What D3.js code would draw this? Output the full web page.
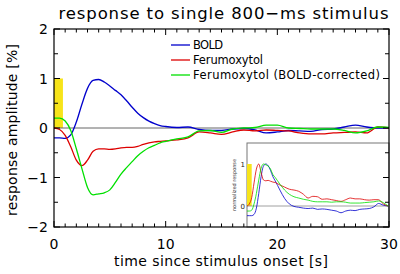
<!DOCTYPE html>
<html><head><meta charset="utf-8">
<script src="https://cdn.jsdelivr.net/npm/d3@7"></script>
<style>body{margin:0;background:#fff}svg{display:block}</style>
</head><body>
<svg id="c" width="400" height="274"></svg>
<script>
// ---- data ----
const seriesNames = ["BOLD", "Ferumoxytol", "Ferumoxytol (BOLD-corrected)"];
const timeMain = [0,0.5,1,1.5,2,2.5,3,3.5,4,4.5,5,5.5,6,6.5,7,7.5,8,8.5,9,9.5,10,11,12,13,14,15,16,17,18,19,20,21,22,23,24,25,26,27,28,29,30];
const boldMain = [-0.2,-0.2,-0.21,-0.14,0.12,0.48,0.8,0.96,0.98,0.93,0.85,0.76,0.67,0.55,0.42,0.3,0.21,0.14,0.09,0.05,0.03,0.01,0.02,-0.03,-0.05,-0.05,-0.02,-0.01,-0.04,-0.1,-0.08,-0.05,-0.06,-0.07,-0.03,-0.02,0.02,0.06,0.02,0.0,0.0];
const ferMain = [0,-0.03,-0.15,-0.38,-0.65,-0.76,-0.65,-0.47,-0.42,-0.42,-0.43,-0.42,-0.4,-0.39,-0.39,-0.37,-0.33,-0.3,-0.28,-0.27,-0.26,-0.24,-0.2,-0.08,-0.1,-0.13,-0.08,-0.04,-0.06,-0.04,-0.05,-0.06,-0.1,-0.12,-0.12,-0.1,-0.09,-0.08,-0.1,0.02,0.0];
const ferCorrMain = [0.2,0.2,0.14,-0.05,-0.42,-0.82,-1.2,-1.35,-1.33,-1.31,-1.25,-1.1,-0.93,-0.8,-0.68,-0.56,-0.47,-0.4,-0.35,-0.3,-0.27,-0.22,-0.18,-0.06,-0.05,-0.09,-0.02,0.0,0.01,0.06,0.06,0.0,-0.01,-0.02,-0.02,-0.02,-0.05,-0.1,-0.06,0.02,0.01];
const timeInset = [0,0.5,1,1.5,2,2.5,3,3.5,4,4.5,5,5.5,6,7,8,9,10,11,12,13,14,15,16,17,18,19,20,21,22,23,24,25,26,27,28,29,30];
const boldNorm = [-0.23,-0.23,-0.23,-0.2,-0.05,0.3,0.7,0.95,1.0,0.96,0.85,0.7,0.6,0.38,0.18,0.05,-0.01,-0.03,-0.05,-0.06,-0.05,-0.08,-0.07,-0.08,-0.1,-0.12,-0.16,-0.12,-0.1,-0.11,-0.08,-0.07,-0.06,-0.02,0.06,0.02,0.0];
const ferNorm = [0.0,0.05,0.2,0.55,0.88,1.0,0.8,0.62,0.6,0.61,0.59,0.57,0.56,0.5,0.45,0.4,0.38,0.35,0.28,0.19,0.23,0.22,0.16,0.17,0.15,0.13,0.11,0.15,0.19,0.17,0.17,0.15,0.14,0.15,0.15,0.05,0.0];
const ferCorrNorm = [-0.12,-0.12,-0.1,0.05,0.3,0.62,0.9,1.0,0.98,0.95,0.88,0.75,0.68,0.52,0.38,0.28,0.22,0.19,0.16,0.14,0.11,0.1,0.1,0.1,0.09,0.1,0.1,0.09,0.07,0.07,0.07,0.08,0.09,0.1,0.12,0.08,0.0];
const stimulus = {start:0, end:0.8, amp:1};
const xTicks = [0,10,20,30];
const yTicks = [-2,-1,0,1,2];
const insetYTicks = [0,1];
const colors = ["#0000cc","#dd0000","#00e000"];

// ---- layout ----
const svg = d3.select("#c");
const L=54,R=389,T=29,B=227;
const x = d3.scaleLinear().domain([0,30]).range([L,R]);
const y = d3.scaleLinear().domain([-2,2]).range([B,T]);
const font = "'DejaVu Sans', sans-serif";

svg.append("defs").append("clipPath").attr("id","cp").append("rect")
  .attr("x",L).attr("y",T).attr("width",R-L).attr("height",B-T);

// stimulus bar
svg.append("rect").attr("x",x(stimulus.start)).attr("y",y(stimulus.amp))
  .attr("width",x(stimulus.end)-x(stimulus.start)).attr("height",y(0)-y(stimulus.amp))
  .attr("fill","#f7e41a");
// zero line
svg.append("line").attr("x1",L).attr("x2",R).attr("y1",y(0)).attr("y2",y(0))
  .attr("stroke","#666").attr("stroke-width",1);

const mainSeries=[boldMain,ferMain,ferCorrMain];
const line = d3.line().x((d,i)=>x(timeMain[i])).y(d=>y(d)).curve(d3.curveMonotoneX);
const g = svg.append("g").attr("clip-path","url(#cp)");
mainSeries.forEach((s,k)=>{
  g.append("path").datum(s).attr("d",line).attr("fill","none")
   .attr("stroke",colors[k]).attr("stroke-width",1.3);
});

// inset
const iL=247,iR=R,iT=143,iB=B;
const xi = d3.scaleLinear().domain([0,30]).range([iL,iR-1]);
const yi = d3.scaleLinear().domain([-0.5,1.5]).range([iB,iT]);
svg.append("defs").append("clipPath").attr("id","cpi").append("rect")
  .attr("x",iL).attr("y",iT).attr("width",iR-iL).attr("height",iB-iT);
svg.append("rect").attr("x",iL).attr("y",iT).attr("width",iR-iL).attr("height",iB-iT)
  .attr("fill","#fff").attr("stroke","#777").attr("stroke-width",1);
svg.append("rect").attr("x",xi(stimulus.start)).attr("y",yi(stimulus.amp))
  .attr("width",xi(stimulus.end+0.2)-xi(stimulus.start)).attr("height",yi(0)-yi(stimulus.amp))
  .attr("fill","#f7e41a");
svg.append("line").attr("x1",iL).attr("x2",iR).attr("y1",yi(0)).attr("y2",yi(0))
  .attr("stroke","#888").attr("stroke-width",0.8);
const lineI = d3.line().x((d,i)=>xi(timeInset[i])).y(d=>yi(d)).curve(d3.curveMonotoneX);
const gi = svg.append("g").attr("clip-path","url(#cpi)");
[boldNorm,ferNorm,ferCorrNorm].forEach((s,k)=>{
  gi.append("path").datum(s).attr("d",lineI).attr("fill","none")
   .attr("stroke",colors[k]).attr("stroke-width",0.8);
});
insetYTicks.forEach(v=>{
  svg.append("text").attr("x",iL-2).attr("y",yi(v)+2.5).attr("text-anchor","end")
   .attr("font-family",font).attr("font-size",7).attr("fill","#222").text(v);
});
svg.append("text").attr("transform",`translate(${iL-11},${(iT+iB)/2}) rotate(-90)`)
  .attr("text-anchor","middle").attr("font-family",font).attr("font-size",5)
  .attr("fill","#333").text("normalized response");

// frame
svg.append("rect").attr("x",L).attr("y",T).attr("width",R-L).attr("height",B-T)
  .attr("fill","none").attr("stroke","#000").attr("stroke-width",1.2);

// ticks (inside, all four sides)
const tk = svg.append("g").attr("stroke","#000").attr("stroke-width",1);
d3.range(0,31,1).forEach(t=>{
  const len = (t%10===0)?6:3.5;
  tk.append("line").attr("x1",x(t)).attr("x2",x(t)).attr("y1",B).attr("y2",B-len);
  tk.append("line").attr("x1",x(t)).attr("x2",x(t)).attr("y1",T).attr("y2",T+len);
});
d3.range(-2,2.01,0.5).forEach(v=>{
  const len = (Math.abs(v%1)<1e-9)?6:4;
  tk.append("line").attr("y1",y(v)).attr("y2",y(v)).attr("x1",L).attr("x2",L+len);
  tk.append("line").attr("y1",y(v)).attr("y2",y(v)).attr("x1",R).attr("x2",R-len);
});

// tick labels
xTicks.forEach(t=>{
  svg.append("text").attr("x",x(t)).attr("y",249).attr("text-anchor","middle")
   .attr("font-family",font).attr("font-size",14).text(t);
});
yTicks.forEach(v=>{
  svg.append("text").attr("x",L-6).attr("y",y(v)+5).attr("text-anchor","end")
   .attr("font-family",font).attr("font-size",14).text(v<0?"\u2212"+Math.abs(v):v);
});

// titles
svg.append("text").attr("x",(L+R)/2+2).attr("y",19).attr("text-anchor","middle")
  .attr("font-family",font).attr("font-size",16.5).attr("textLength",330).attr("lengthAdjust","spacing")
  .text("response to single 800\u2212ms stimulus");
svg.append("text").attr("x",221).attr("y",266).attr("text-anchor","middle")
  .attr("font-family",font).attr("font-size",14).attr("textLength",214).attr("lengthAdjust","spacing")
  .text("time since stimulus onset [s]");
svg.append("text").attr("transform",`translate(17,${(T+B)/2+2}) rotate(-90)`).attr("text-anchor","middle")
  .attr("font-family",font).attr("font-size",14).attr("textLength",172).attr("lengthAdjust","spacing")
  .text("response amplitude [%]");

// legend
const legY=[45,60,75];
const legW=[30,70,187];
seriesNames.forEach((n,k)=>{
  svg.append("line").attr("x1",171).attr("x2",190).attr("y1",legY[k]).attr("y2",legY[k])
    .attr("stroke",colors[k]).attr("stroke-width",1.3);
  svg.append("text").attr("x",193).attr("y",legY[k]+4).attr("font-family",font)
    .attr("font-size",11.5).attr("textLength",legW[k]).attr("lengthAdjust","spacing").text(n);
});
</script>
</body></html>
